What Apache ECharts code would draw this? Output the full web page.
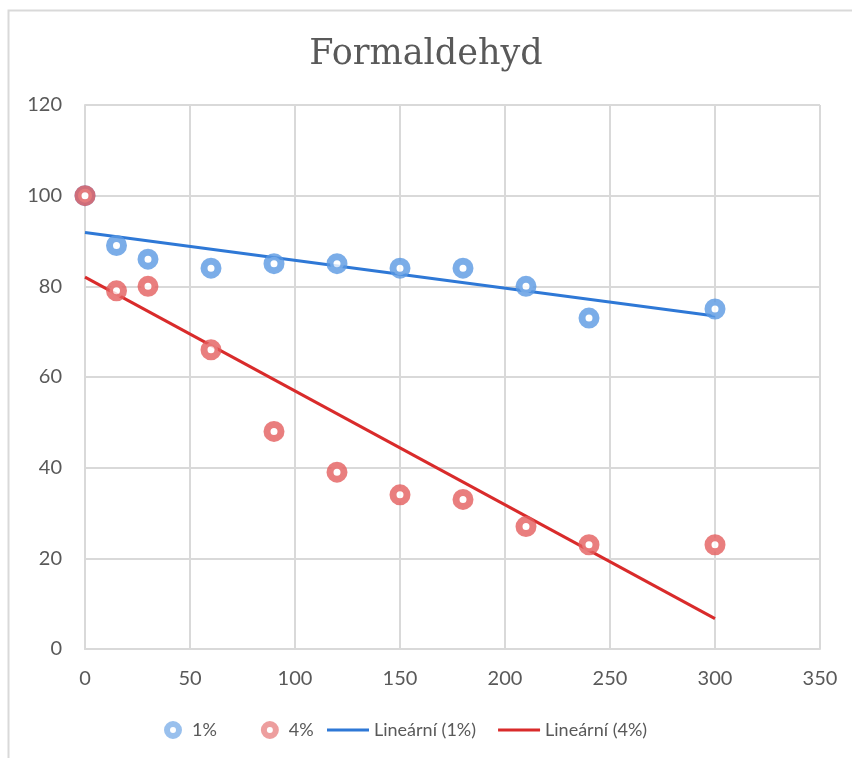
<!DOCTYPE html>
<html>
<head>
<meta charset="utf-8">
<script src="https://cdn.jsdelivr.net/npm/echarts@6/dist/echarts.min.js"></script>
<style>
html,body{margin:0;padding:0;background:#fff;}
#chart{width:852px;height:758px;}
</style>
</head>
<body>
<div id="chart"></div>
<script>
// ---- data ----
var times = [0, 15, 30, 60, 90, 120, 150, 180, 210, 240, 300];
var values1 = [100, 89, 86, 84, 85, 85, 84, 84, 80, 73, 75];
var values4 = [100, 79, 80, 66, 48, 39, 34, 33, 27, 23, 23];
var seriesNames = ['1%', '4%', 'Lineární (1%)', 'Lineární (4%)'];
var xTicks = [0, 50, 100, 150, 200, 250, 300, 350];
var yTicks = [0, 20, 40, 60, 80, 100, 120];
var titleText = 'Formaldehyd';

function pairs(xs, ys) { return xs.map(function (x, i) { return [x, ys[i]]; }); }
function trend(xs, ys) {
  var n = xs.length, sx = 0, sy = 0, sxy = 0, sxx = 0;
  for (var i = 0; i < n; i++) { sx += xs[i]; sy += ys[i]; sxy += xs[i] * ys[i]; sxx += xs[i] * xs[i]; }
  var m = (n * sxy - sx * sy) / (n * sxx - sx * sx);
  var b = (sy - m * sx) / n;
  var x0 = Math.min.apply(null, xs), x1 = Math.max.apply(null, xs);
  return [[x0, m * x0 + b], [x1, m * x1 + b]];
}

var BLUE_M = '#5a98e2', RED_M = '#e35e5e';
var BLUE_L = '#2e78d6', RED_L = '#d92b2b';
var GRID = '#d9d9d9', TXT = '#595959';

var chart = echarts.init(document.getElementById('chart'), null, {renderer: 'canvas'});
chart.setOption({
  backgroundColor: '#fff',
  animation: false,
  graphic: [{
    type: 'rect', left: 6, top: 8, z: 0, silent: true,
    shape: {width: 900, height: 800},
    style: {fill: 'none', stroke: GRID, lineWidth: 2}
  }],
  title: {
    text: titleText, left: 'center', top: 32,
    textStyle: {fontFamily: 'DejaVu Serif', fontSize: 35, fontWeight: 'normal', color: TXT}
  },
  grid: {left: 85, right: 32, top: 105, bottom: 109, containLabel: false},
  xAxis: {
    type: 'value', min: xTicks[0], max: xTicks[xTicks.length - 1], interval: 50,
    axisLine: {show: true, lineStyle: {color: GRID, width: 2}},
    axisTick: {show: false},
    splitLine: {show: true, lineStyle: {color: GRID, width: 2}},
    axisLabel: {color: TXT, fontFamily: 'Lato', fontSize: 20, margin: 20}
  },
  yAxis: {
    type: 'value', min: yTicks[0], max: yTicks[yTicks.length - 1], interval: 20,
    axisLine: {show: true, lineStyle: {color: GRID, width: 2}},
    axisTick: {show: false},
    splitLine: {show: true, lineStyle: {color: GRID, width: 2}},
    axisLabel: {color: TXT, fontFamily: 'Lato', fontSize: 20, margin: 23}
  },
  legend: [{
    data: [
      {name: seriesNames[0], icon: 'circle', itemStyle: {color: '#fff', borderColor: '#7fb0e8', borderWidth: 6}},
      {name: seriesNames[1], icon: 'circle', itemStyle: {color: '#fff', borderColor: '#e98686', borderWidth: 6}}
    ],
    left: 159, top: 716, itemWidth: 12, itemHeight: 12, itemGap: 44,
    textStyle: {color: TXT, fontFamily: 'Lato', fontSize: 18, padding: [0, 0, 0, 8]}
  }, {
    data: [
      {name: seriesNames[2], icon: 'rect', itemStyle: {color: BLUE_L}},
      {name: seriesNames[3], icon: 'rect', itemStyle: {color: RED_L}}
    ],
    left: 322, top: 716, itemWidth: 42, itemHeight: 3, itemGap: 22,
    textStyle: {color: TXT, fontFamily: 'Lato', fontSize: 18, padding: [0, 0, 0, 0]}
  }],
  series: [{
    name: seriesNames[0], type: 'scatter', z: 4,
    data: pairs(times, values1), symbol: 'circle', symbolSize: 14,
    itemStyle: {color: '#fff', borderColor: BLUE_M, borderWidth: 7, opacity: 0.8}
  }, {
    name: seriesNames[1], type: 'scatter', z: 5,
    data: pairs(times, values4), symbol: 'circle', symbolSize: 14,
    itemStyle: {color: '#fff', borderColor: RED_M, borderWidth: 7, opacity: 0.8}
  }, {
    name: seriesNames[2], type: 'line', z: 2, symbol: 'none',
    data: trend(times, values1),
    lineStyle: {color: BLUE_L, width: 3}, itemStyle: {color: BLUE_L}
  }, {
    name: seriesNames[3], type: 'line', z: 2, symbol: 'none',
    data: trend(times, values4),
    lineStyle: {color: RED_L, width: 3}, itemStyle: {color: RED_L}
  }]
});
</script>
</body>
</html>
